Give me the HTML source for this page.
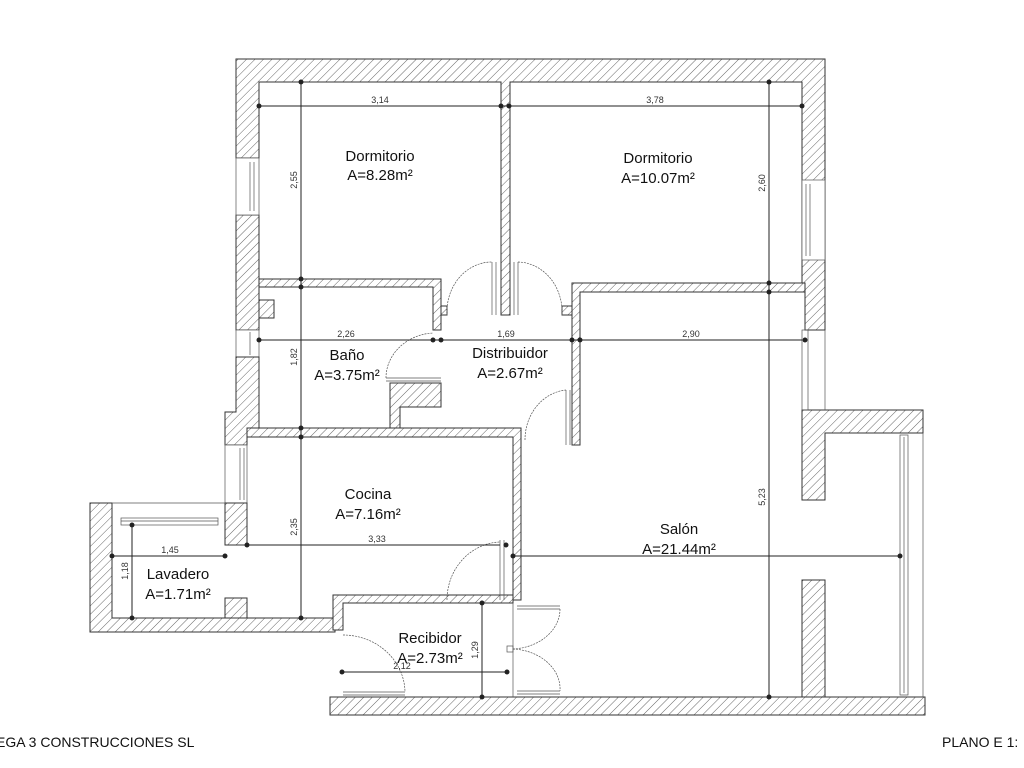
<!DOCTYPE html>
<html><head><meta charset="utf-8"><style>
html,body{margin:0;padding:0;background:#fff}
svg{display:block}
text{font-family:"Liberation Sans",sans-serif;fill:#111}
.lbl{font-size:15px;text-anchor:middle}
.dim{font-size:9px;text-anchor:middle;fill:#333}
.w{fill:url(#h);stroke:#333;stroke-width:1}
.ln{stroke:#222;stroke-width:1;fill:none}
.th{stroke:#555;stroke-width:0.7;fill:none}
.win{stroke:#555;stroke-width:0.7;fill:#fff}
.arc{stroke:#555;stroke-width:0.7;fill:none;stroke-dasharray:2 1}
.d{fill:#222}
</style></head><body>
<svg width="1024" height="768" viewBox="0 0 1024 768" xmlns="http://www.w3.org/2000/svg">
<defs><pattern id="h" width="6" height="6" patternUnits="userSpaceOnUse" patternTransform="rotate(45)"><rect width="6" height="6" fill="#fff"/><line x1="0" y1="0" x2="0" y2="6" stroke="#555" stroke-width="0.9"/></pattern></defs>

<path class="w" d="M236,59 H825 V330 H805 V292 H802 V82 H510 V315 H501 V82 H259 V158 H236 Z"/>
<rect class="w" x="236" y="215" width="23" height="115"/>
<rect class="w" x="259" y="300" width="15" height="18"/>
<rect class="win" x="236" y="158" width="23" height="57"/><line class="th" x1="250" y1="162" x2="250" y2="211"/><line class="th" x1="254" y1="162" x2="254" y2="211"/>
<rect class="win" x="236" y="330" width="23" height="27"/><line class="th" x1="250" y1="332" x2="250" y2="355"/>
<path class="w" d="M236,357 H259 V428 H247 V445 H225 V412 H236 Z"/>
<rect class="win" x="802" y="180" width="23" height="80"/><line class="th" x1="806" y1="184" x2="806" y2="256"/><line class="th" x1="810" y1="184" x2="810" y2="256"/>
<path class="w" d="M259,279 H441 V330 H433 V287 H259 Z"/>
<rect class="w" x="441" y="306" width="6" height="9"/>
<rect class="w" x="562" y="306" width="10" height="9"/>
<line class="th" x1="496" y1="262" x2="496" y2="315"/><line class="th" x1="492" y1="262" x2="492" y2="315"/>
<line class="th" x1="514" y1="262" x2="514" y2="315"/><line class="th" x1="518" y1="262" x2="518" y2="315"/>
<path class="arc" d="M447,315 A45,50 0 0 1 492,262"/>
<path class="arc" d="M518,262 A45,50 0 0 1 562,315"/>
<path class="w" d="M572,283 H805 V292 H580 V445 H572 Z"/>
<line class="th" x1="566" y1="390" x2="566" y2="445"/><line class="th" x1="570" y1="390" x2="570" y2="445"/>
<path class="arc" d="M525,440 A45,50 0 0 1 566,390"/>
<path class="w" d="M390,383 H441 V407 H400 V428 H390 Z"/>
<line class="th" x1="386" y1="378" x2="441" y2="378"/><line class="th" x1="386" y1="381" x2="441" y2="381"/>
<path class="arc" d="M386,378 A50,45 0 0 1 433,333"/>
<path class="w" d="M247,428 H521 V600 H513 V437 H247 Z"/>
<rect class="win" x="225" y="445" width="22" height="58"/><line class="th" x1="240" y1="448" x2="240" y2="500"/><line class="th" x1="244" y1="448" x2="244" y2="500"/>
<rect class="w" x="225" y="503" width="22" height="42"/>
<rect class="w" x="225" y="598" width="22" height="20"/>
<path class="w" d="M90,503 H112 V618 H335 V632 H90 Z"/>
<line class="th" x1="112" y1="503" x2="225" y2="503"/>
<rect class="th" x="121" y="518" width="97" height="7"/><line class="th" x1="121" y1="521" x2="218" y2="521"/>
<path class="w" d="M333,595 H513 V603 H343 V630 H333 Z"/>
<line class="th" x1="500" y1="540" x2="500" y2="600"/><line class="th" x1="504" y1="540" x2="504" y2="600"/>
<path class="arc" d="M447,600 A55,58 0 0 1 500,542"/>
<path class="w" d="M330,697 H925 V715 H330 Z"/>
<line class="th" x1="343" y1="692" x2="405" y2="692"/><line class="th" x1="343" y1="695" x2="405" y2="695"/>
<path class="arc" d="M343,635 A62,58 0 0 1 405,692"/>
<line class="th" x1="513" y1="603" x2="513" y2="697"/>
<line class="th" x1="517" y1="606" x2="560" y2="606"/><line class="th" x1="517" y1="609" x2="560" y2="609"/>
<line class="th" x1="517" y1="691" x2="560" y2="691"/><line class="th" x1="517" y1="694" x2="560" y2="694"/>
<rect class="th" x="507" y="646" width="6" height="6"/>
<path class="arc" d="M560,609 A50,40 0 0 1 513,649"/>
<path class="arc" d="M513,649 A50,40 0 0 1 560,691"/>
<path class="w" d="M802,410 H923 V433 H825 V500 H802 Z"/>
<rect class="w" x="802" y="580" width="23" height="117"/>
<line class="th" x1="825" y1="330" x2="825" y2="410"/>
<rect class="th" x="802" y="330" width="6" height="80"/>
<line class="th" x1="923" y1="433" x2="923" y2="697"/>
<rect class="th" x="900" y="435" width="8" height="260"/><line class="th" x1="904" y1="437" x2="904" y2="693"/>

<g class="ln">
<line x1="259" y1="106" x2="802" y2="106"/>
<line x1="301" y1="82" x2="301" y2="618"/>
<line x1="769" y1="82" x2="769" y2="697"/>
<line x1="259" y1="340" x2="802" y2="340"/>
<line x1="247" y1="545" x2="500" y2="545"/>
<line x1="513" y1="556" x2="900" y2="556"/>
<line x1="112" y1="556" x2="225" y2="556"/>
<line x1="132" y1="525" x2="132" y2="618"/>
<line x1="342" y1="672" x2="507" y2="672"/>
<line x1="482" y1="603" x2="482" y2="697"/>
</g>
<g class="d">
<circle cx="259" cy="106" r="2.5"/><circle cx="501" cy="106" r="2.5"/><circle cx="509" cy="106" r="2.5"/><circle cx="802" cy="106" r="2.5"/>
<circle cx="301" cy="82" r="2.5"/><circle cx="301" cy="279" r="2.5"/><circle cx="301" cy="287" r="2.5"/><circle cx="301" cy="428" r="2.5"/><circle cx="301" cy="437" r="2.5"/><circle cx="301" cy="618" r="2.5"/>
<circle cx="769" cy="82" r="2.5"/><circle cx="769" cy="283" r="2.5"/><circle cx="769" cy="292" r="2.5"/><circle cx="769" cy="697" r="2.5"/>
<circle cx="259" cy="340" r="2.5"/><circle cx="433" cy="340" r="2.5"/><circle cx="441" cy="340" r="2.5"/><circle cx="572" cy="340" r="2.5"/><circle cx="580" cy="340" r="2.5"/><circle cx="805" cy="340" r="2.5"/>
<circle cx="247" cy="545" r="2.5"/><circle cx="506" cy="545" r="2.5"/><circle cx="513" cy="556" r="2.5"/><circle cx="900" cy="556" r="2.5"/>
<circle cx="112" cy="556" r="2.5"/><circle cx="225" cy="556" r="2.5"/><circle cx="132" cy="525" r="2.5"/><circle cx="132" cy="618" r="2.5"/>
<circle cx="342" cy="672" r="2.5"/><circle cx="507" cy="672" r="2.5"/><circle cx="482" cy="603" r="2.5"/><circle cx="482" cy="697" r="2.5"/>
</g>
<text class="dim" x="380" y="103">3,14</text>
<text class="dim" x="655" y="103">3,78</text>
<text class="dim" x="346" y="337">2,26</text>
<text class="dim" x="506" y="337">1,69</text>
<text class="dim" x="691" y="337">2,90</text>
<text class="dim" x="377" y="542">3,33</text>
<text class="dim" x="170" y="553">1,45</text>
<text class="dim" x="402" y="669">2,12</text>
<text class="dim" transform="translate(297,180) rotate(-90)">2,55</text>
<text class="dim" transform="translate(765,183) rotate(-90)">2,60</text>
<text class="dim" transform="translate(297,357) rotate(-90)">1,82</text>
<text class="dim" transform="translate(297,527) rotate(-90)">2,35</text>
<text class="dim" transform="translate(765,497) rotate(-90)">5,23</text>
<text class="dim" transform="translate(128,571) rotate(-90)">1,18</text>
<text class="dim" transform="translate(478,650) rotate(-90)">1,29</text>

<text class="lbl" x="380" y="161">Dormitorio</text><text class="lbl" x="380" y="180">A=8.28m²</text>
<text class="lbl" x="658" y="163">Dormitorio</text><text class="lbl" x="658" y="183">A=10.07m²</text>
<text class="lbl" x="347" y="360">Baño</text><text class="lbl" x="347" y="380">A=3.75m²</text>
<text class="lbl" x="510" y="358">Distribuidor</text><text class="lbl" x="510" y="378">A=2.67m²</text>
<text class="lbl" x="368" y="499">Cocina</text><text class="lbl" x="368" y="519">A=7.16m²</text>
<text class="lbl" x="679" y="534">Salón</text><text class="lbl" x="679" y="554">A=21.44m²</text>
<text class="lbl" x="178" y="579">Lavadero</text><text class="lbl" x="178" y="599">A=1.71m²</text>
<text class="lbl" x="430" y="643">Recibidor</text><text class="lbl" x="430" y="663">A=2.73m²</text>

<text x="-4" y="747" style="font-size:14px">EGA 3 CONSTRUCCIONES SL</text>
<text x="942" y="747" style="font-size:14px">PLANO E 1:</text>
</svg>
</body></html>
